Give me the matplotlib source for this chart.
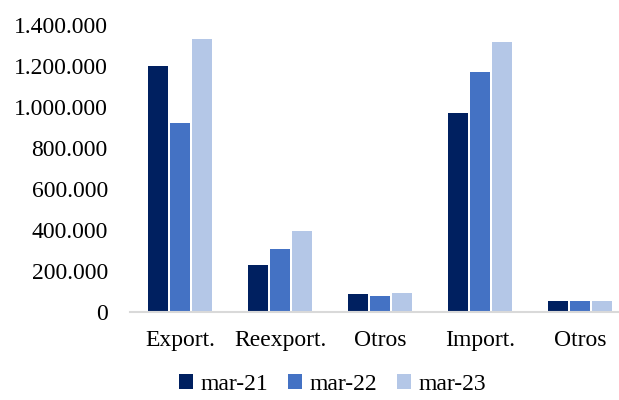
import matplotlib
matplotlib.use("Agg")
import matplotlib.pyplot as plt
import numpy as np
from matplotlib.ticker import FuncFormatter

categories = ["Export.", "Reexport.", "Otros", "Import.", "Otros"]
series_names = ["mar-21", "mar-22", "mar-23"]
mar21 = [1200000, 226000, 86000, 969000, 51000]
mar22 = [922000, 308000, 77000, 1169000, 52000]
mar23 = [1334000, 393000, 93000, 1317000, 52000]
colors = ["#002060", "#4472C4", "#B4C7E7"]

plt.rcParams['font.family'] = ['Liberation Serif', 'DejaVu Serif']

fig = plt.figure(figsize=(6.19, 4.0), dpi=100)
ax = fig.add_axes([130/619, 1-311.7/400, 1-130/619, (311.7-25)/400])

x = np.arange(len(categories))
pitch = 0.223
width = 0.2
for i, (vals, name, c) in enumerate(zip([mar21, mar22, mar23], series_names, colors)):
    ax.bar(x + (i-1)*pitch, vals, width=width, color=c, label=name, zorder=2)

ax.set_xlim(-0.5, 4.39)
ax.set_ylim(0, 1400000)
ax.set_yticks(np.arange(0, 1400001, 200000))
ax.yaxis.set_major_formatter(FuncFormatter(lambda v, p: f"{int(v):,}".replace(",", ".")))
ax.set_xticks(x)
ax.set_xticklabels(categories)
ax.tick_params(axis='both', length=0, labelsize=17, colors="#000000")
ax.tick_params(axis='x', pad=13)
ax.tick_params(axis='y', pad=16)
for s in ["top", "right", "left"]:
    ax.spines[s].set_visible(False)
ax.spines["bottom"].set_color("#D9D9D9")
ax.spines["bottom"].set_linewidth(1.5)

leg = fig.legend(loc="center", bbox_to_anchor=(0.537, 1-384/400), ncol=3, frameon=False,
                 fontsize=17, handlelength=0.6, handleheight=0.6, handletextpad=0.3,
                 columnspacing=0.85)

fig.savefig("out.png", dpi=100)
